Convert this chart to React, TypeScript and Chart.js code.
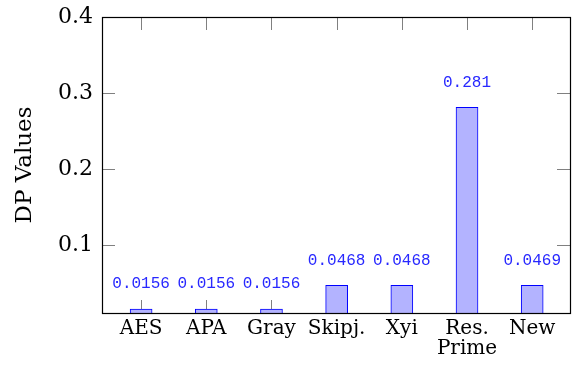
import React, { useEffect, useRef } from "react";
import { Chart, registerables } from "chart.js";

Chart.register(...registerables);

const categories: (string | string[])[] = ["AES", "APA", "Gray", "Skipj.", "Xyi", ["Res.", "Prime"], "New"];
const dpValues: number[] = [0.0156, 0.0156, 0.0156, 0.0468, 0.0468, 0.281, 0.0469];
const valueLabels: string[] = ["0.0156", "0.0156", "0.0156", "0.0468", "0.0468", "0.281", "0.0469"];
const yTicks: number[] = [0.1, 0.2, 0.3, 0.4];

const framePlugin = {
  id: "frameTicks",
  beforeDatasetsDraw(chart: any) {
    const { ctx, chartArea: a, scales } = chart;
    ctx.save();
    ctx.strokeStyle = "#808080";
    ctx.lineWidth = 1;
    const L = 13;
    ctx.beginPath();
    for (const v of yTicks) {
      const y = Math.round(scales.y.getPixelForValue(v)) + 0.5;
      ctx.moveTo(a.left, y);
      ctx.lineTo(a.left + L, y);
      ctx.moveTo(a.right, y);
      ctx.lineTo(a.right - L, y);
    }
    for (let i = 0; i < categories.length; i++) {
      const x = Math.round(scales.x.getPixelForValue(i)) + 0.5;
      ctx.moveTo(x, a.bottom);
      ctx.lineTo(x, a.bottom - L);
      ctx.moveTo(x, a.top);
      ctx.lineTo(x, a.top + L);
    }
    ctx.stroke();
    ctx.restore();
  },
  afterDatasetsDraw(chart: any) {
    const { ctx, chartArea: a } = chart;
    ctx.save();
    const meta = chart.getDatasetMeta(0);
    ctx.fillStyle = "rgb(40,40,255)";
    ctx.font = '16px "Liberation Mono"';
    ctx.textAlign = "center";
    ctx.textBaseline = "middle";
    meta.data.forEach((bar: any, i: number) => {
      ctx.fillText(valueLabels[i], bar.x, bar.y - 25);
    });
    ctx.strokeStyle = "#000";
    ctx.lineWidth = 1.2;
    ctx.strokeRect(Math.round(a.left) + 0.5, Math.round(a.top) + 0.5, Math.round(a.right - a.left), Math.round(a.bottom - a.top));
    ctx.restore();
  },
};

export default function App() {
  const ref = useRef<HTMLCanvasElement>(null);
  useEffect(() => {
    if (!ref.current) return;
    const chart = new Chart(ref.current, {
      type: "bar",
      data: {
        datasets: [
          {
            data: dpValues.map((v, i) => ({ x: i, y: v })),
            backgroundColor: "#b3b3ff",
            borderColor: "#0000ff",
            borderWidth: 1,
            barThickness: 22,
          },
        ],
      },
      options: {
        responsive: false,
        animation: false,
        layout: { padding: { left: 0, top: 17, right: 4, bottom: 0 } },
        plugins: { legend: { display: false }, tooltip: { enabled: false } },
        scales: {
          x: {
            type: "linear",
            offset: false,
            min: -0.6,
            max: 6.58,
            grid: { display: false, drawTicks: false, offset: false },
            border: { display: false },
            afterBuildTicks: (s: any) => {
              s.ticks = categories.map((_, i) => ({ value: i }));
            },
            afterFit: (s: any) => {
              s.height = 52;
            },
            ticks: {
              autoSkip: false,
              maxRotation: 0,
              padding: 6,
              color: "#000",
              font: { family: "DejaVu Serif", size: 20, lineHeight: 1.0 },
              callback: (v: any) => categories[Math.round(v)] as any,
            },
          },
          y: {
            min: 0.0104,
            max: 0.4,
            grid: { display: false, drawTicks: false },
            border: { display: false },
            afterBuildTicks: (s: any) => {
              s.ticks = yTicks.map((v) => ({ value: v }));
            },
            afterFit: (s: any) => {
              s.width = 102;
            },
            ticks: {
              padding: 9,
              color: "#000",
              font: { family: "DejaVu Serif", size: 22, lineHeight: 0.5 },
              callback: (v: any) => String(Math.round(v * 10) / 10),
            },
            title: {
              display: true,
              text: "DP Values",
              color: "#000",
              font: { family: "DejaVu Serif", size: 23, lineHeight: 1.2 },
              padding: { top: 11, bottom: 0 },
            },
          },
        },
      },
      plugins: [framePlugin],
    } as any);
    return () => chart.destroy();
  }, []);
  return (
    <div style={{ position: "absolute", left: 0, top: 0, width: 574, height: 365, background: "#fff" }}>
      <canvas ref={ref} width={574} height={365} />
    </div>
  );
}
